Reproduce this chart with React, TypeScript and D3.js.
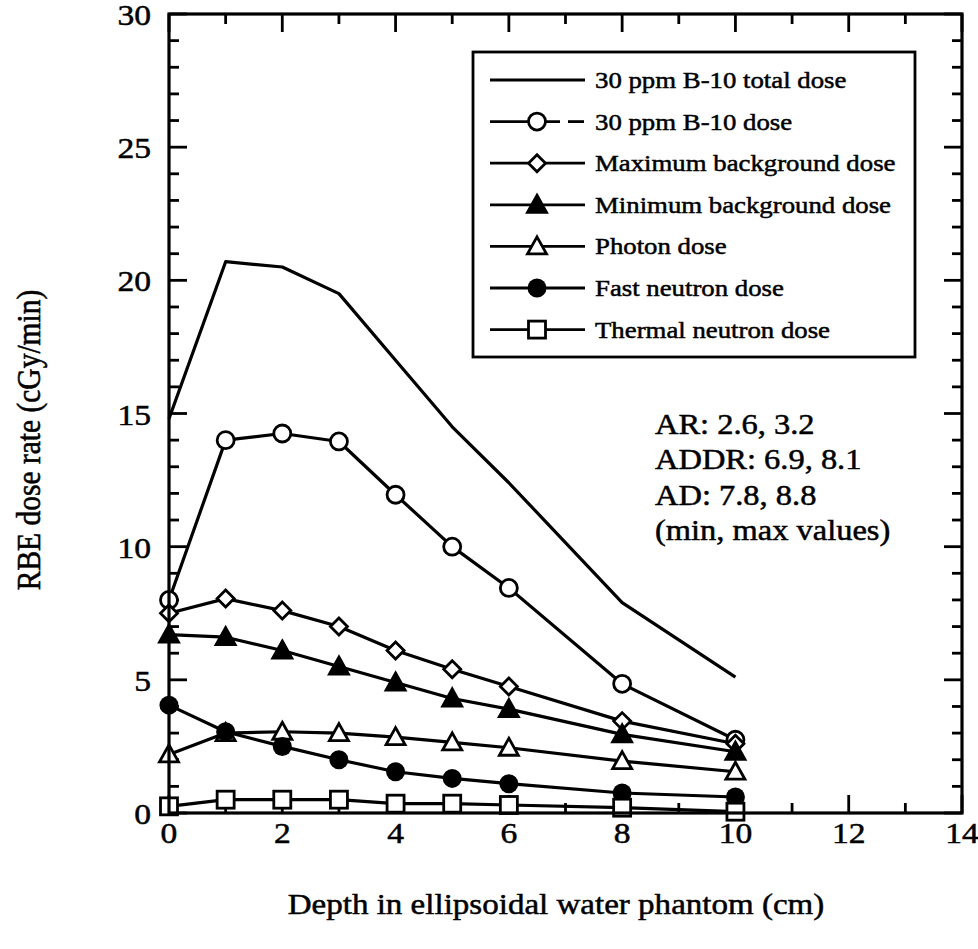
import React from 'react';
import * as d3 from 'd3';

// depth (cm) and RBE dose rates (cGy/min)
const depths = [0, 1, 2, 3, 4, 5, 6, 8, 10];
const totalDose = [14.8, 20.7, 20.5, 19.5, 17.0, 14.5, 12.4, 7.9, 5.1];
const boronDose = [8.0, 14.0, 14.25, 13.95, 11.95, 10.0, 8.45, 4.85, 2.75];
const maxBackground = [7.5, 8.05, 7.6, 7.0, 6.1, 5.4, 4.75, 3.45, 2.6];
const minBackground = [6.7, 6.6, 6.1, 5.5, 4.9, 4.3, 3.9, 2.95, 2.3];
const photonDose = [2.2, 3.0, 3.05, 3.0, 2.85, 2.65, 2.45, 1.95, 1.55];
const fastNeutron = [4.05, 3.05, 2.5, 2.0, 1.55, 1.3, 1.1, 0.75, 0.6];
const thermalNeutron = [0.25, 0.5, 0.5, 0.5, 0.35, 0.35, 0.3, 0.2, 0.05];

const seriesLabels = [
  '30 ppm B-10 total dose',
  '30 ppm B-10 dose',
  'Maximum background dose',
  'Minimum background dose',
  'Photon dose',
  'Fast neutron dose',
  'Thermal neutron dose',
];
const seriesMarkers = ['none', 'openCircle', 'diamond', 'filledTriangle', 'openTriangle', 'filledCircle', 'square'];
const seriesValues = [totalDose, boronDose, maxBackground, minBackground, photonDose, fastNeutron, thermalNeutron];

const xTickValues = [0, 2, 4, 6, 8, 10, 12, 14];
const yTickValues = [0, 5, 10, 15, 20, 25, 30];
const annotationLines = ['AR: 2.6, 3.2', 'ADDR: 6.9, 8.1', 'AD: 7.8, 8.8', '(min, max values)'];

const W = 978;
const H = 949;
const margin = { left: 169, right: 16, top: 14, bottom: 136 };
const FONT = 'Liberation Serif, Times New Roman, Times, serif';
const SX = 1.12; // the scan is slightly stretched horizontally
const INK = 0.5; // scanned text looks a little heavy

function Marker({ kind, x, y }: { kind: string; x: number; y: number }) {
  const sw = 2.8;
  switch (kind) {
    case 'openCircle':
      return <circle cx={x} cy={y} r={8.5} fill="#fff" stroke="#000" strokeWidth={sw} />;
    case 'filledCircle':
      return <circle cx={x} cy={y} r={9.5} fill="#000" />;
    case 'diamond':
      return (
        <path
          d={`M${x},${y - 8.5}L${x + 8.5},${y}L${x},${y + 8.5}L${x - 8.5},${y}Z`}
          fill="#fff"
          stroke="#000"
          strokeWidth={sw}
        />
      );
    case 'filledTriangle':
    case 'openTriangle': {
      const filled = kind === 'filledTriangle';
      return (
        <path
          d={`M${x},${y - 9.5}L${x + 9.5},${y + 7.5}L${x - 9.5},${y + 7.5}Z`}
          fill={filled ? '#000' : '#fff'}
          stroke="#000"
          strokeWidth={sw}
        />
      );
    }
    case 'square':
      return <rect x={x - 8.5} y={y - 8.5} width={17} height={17} fill="#fff" stroke="#000" strokeWidth={sw} />;
    default:
      return null;
  }
}

export default function App() {
  const x = d3.scaleLinear().domain([0, 14]).range([margin.left, W - margin.right]);
  const y = d3.scaleLinear().domain([0, 30]).range([H - margin.bottom, margin.top]);
  const [x0, x1] = x.range();
  const [y0, y1] = y.range();

  const line = d3
    .line<number>()
    .x((_, i) => x(depths[i]))
    .y((v) => y(v));

  const xMinor = d3.range(0, 15, 1);
  const yMinor = d3.range(0, 31, 1);

  const legend = { left: 473, top: 52, right: 915, bottom: 357 };
  const rowY = (i: number) => 80 + i * 41.6;

  return (
    <svg
      width={W}
      height={H}
      style={{ position: 'absolute', left: 0, top: 0, background: '#fff', fontFamily: FONT }}
    >
      <rect width={W} height={H} fill="#fff" />

      {/* ticks, inward on all four sides */}
      <g stroke="#000" strokeWidth={2.8}>
        {xMinor.map((t) => {
          const len = t % 2 === 0 ? 18 : 10;
          return (
            <g key={`xt${t}`}>
              <line x1={x(t)} x2={x(t)} y1={y0} y2={y0 - len} />
              <line x1={x(t)} x2={x(t)} y1={y1} y2={y1 + len} />
            </g>
          );
        })}
        {yMinor.map((t) => {
          const len = t % 5 === 0 ? 18 : 10;
          return (
            <g key={`yt${t}`}>
              <line x1={x0} x2={x0 + len} y1={y(t)} y2={y(t)} />
              <line x1={x1} x2={x1 - len} y1={y(t)} y2={y(t)} />
            </g>
          );
        })}
      </g>

      {/* series */}
      <g fill="none" stroke="#000" strokeWidth={3.2}>
        {seriesValues.map((vals, s) => (
          <path key={`l${s}`} d={line(vals) || ''} strokeLinejoin="round" />
        ))}
      </g>
      {seriesValues.map((vals, s) => (
        <g key={`m${s}`}>
          {vals.map((v, i) => (
            <Marker key={i} kind={seriesMarkers[s]} x={x(depths[i])} y={y(v)} />
          ))}
        </g>
      ))}

      {/* frame */}
      <rect x={x0} y={y1} width={x1 - x0} height={y0 - y1} fill="none" stroke="#000" strokeWidth={3.2} />

      <g fill="#000" stroke="#000" strokeWidth={INK}>
        {/* tick labels */}
        <g fontSize={30}>
          {yTickValues.map((t) => (
            <text key={`yl${t}`} transform={`translate(151,${y(t) + 11}) scale(${SX},1)`} textAnchor="end">
              {t}
            </text>
          ))}
          {xTickValues.map((t) => (
            <text key={`xl${t}`} transform={`translate(${x(t)},${843}) scale(${SX},1)`} textAnchor="middle">
              {t}
            </text>
          ))}
        </g>

        {/* axis titles */}
        <text transform={`translate(556,914) scale(${SX},1)`} textAnchor="middle" fontSize={29.5}>
          Depth in ellipsoidal water phantom (cm)
        </text>
        <text transform={`translate(40,440) rotate(-90) scale(1,${SX})`} textAnchor="middle" fontSize={29.5}>
          RBE dose rate (cGy/min)
        </text>
      </g>

      {/* legend */}
      <rect
        x={legend.left}
        y={legend.top}
        width={legend.right - legend.left}
        height={legend.bottom - legend.top}
        fill="#fff"
        stroke="#000"
        strokeWidth={2.8}
      />
      {seriesLabels.map((label, i) => {
        const cy = rowY(i);
        return (
          <g key={`lg${i}`}>
            {i === 1 ? (
              <g stroke="#000" strokeWidth={2.8}>
                <line x1={490} x2={560} y1={cy} y2={cy} />
                <line x1={568} x2={584} y1={cy} y2={cy} />
              </g>
            ) : (
              <line x1={490} x2={585} y1={cy} y2={cy} stroke="#000" strokeWidth={2.8} />
            )}
            <Marker kind={seriesMarkers[i]} x={537} y={cy} />
            <text
              transform={`translate(595,${cy + 8}) scale(${SX + 0.02},1)`}
              fontSize={23.5}
              stroke="#000"
              strokeWidth={INK}
            >
              {label}
            </text>
          </g>
        );
      })}

      {/* annotation */}
      <g stroke="#000" strokeWidth={INK}>
        {annotationLines.map((t, i) => (
          <text key={`an${i}`} transform={`translate(655,${434 + i * 35.3}) scale(${SX},1)`} fontSize={29}>
            {t}
          </text>
        ))}
      </g>
    </svg>
  );
}
